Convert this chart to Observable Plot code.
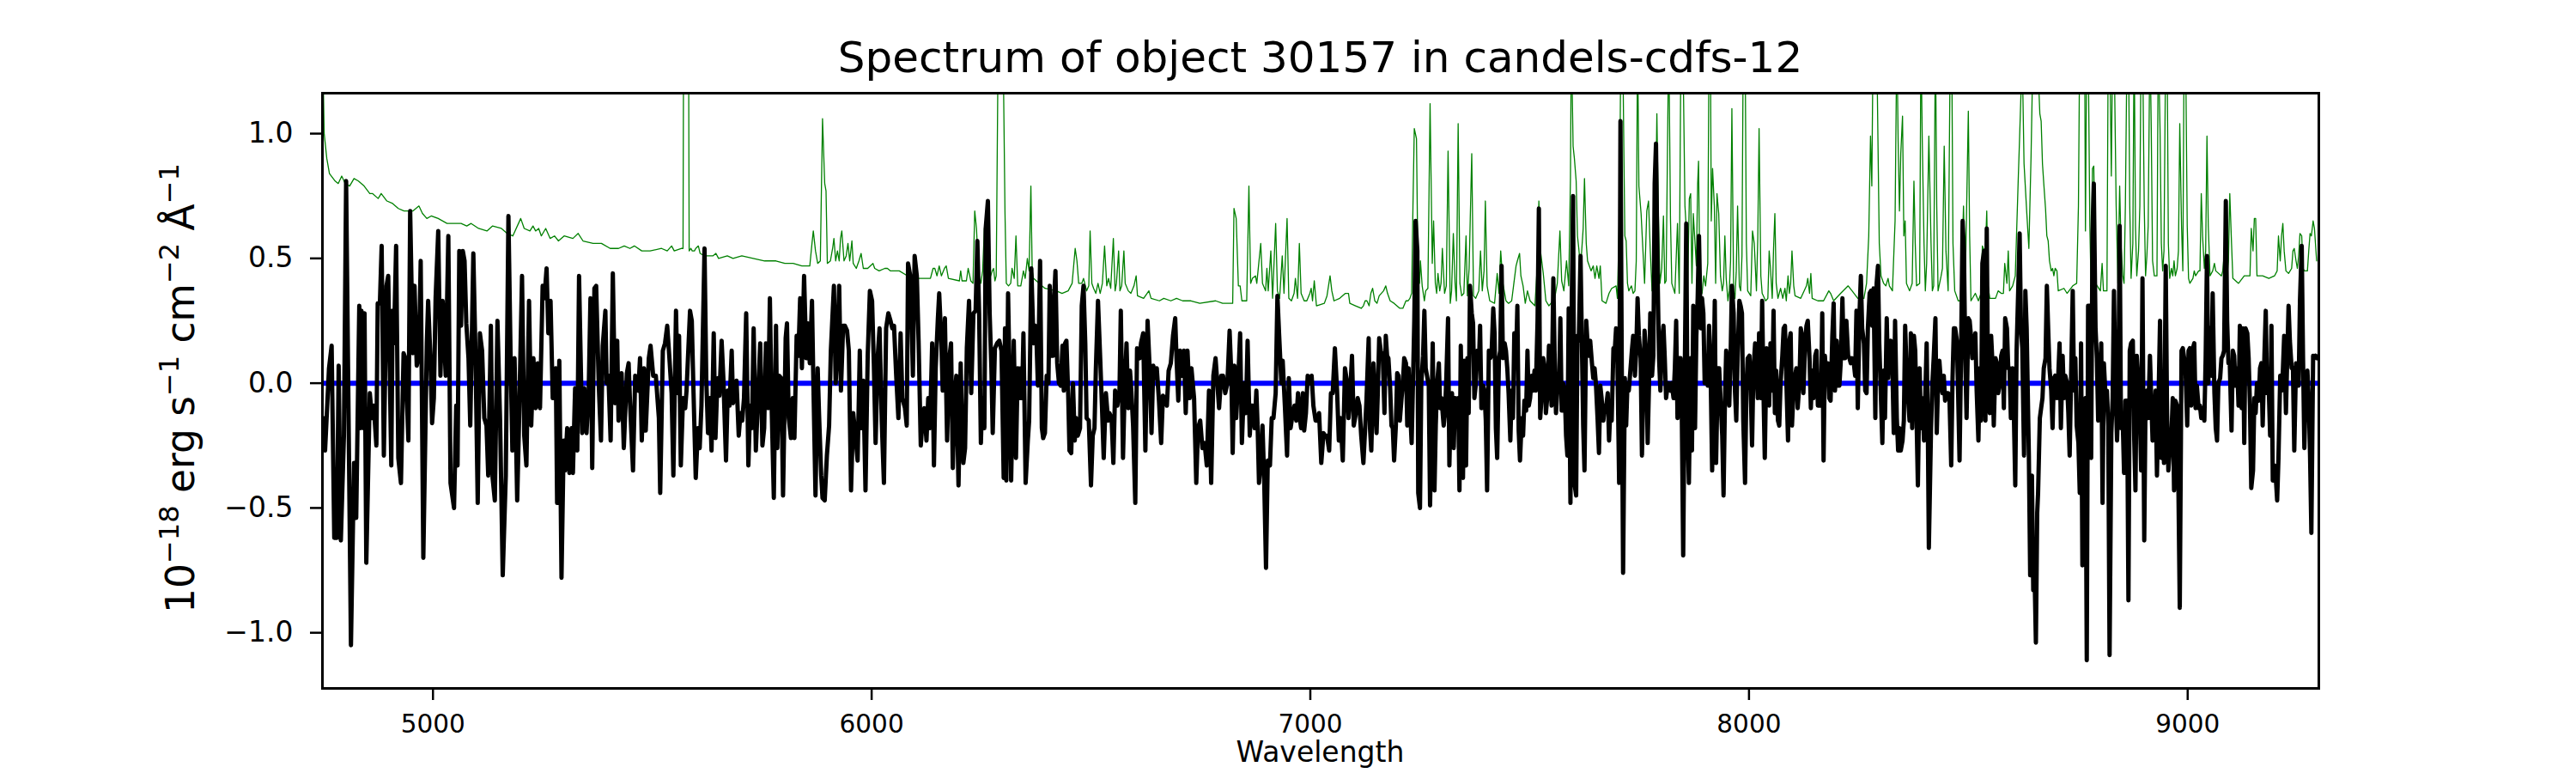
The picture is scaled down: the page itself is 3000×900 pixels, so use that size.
<!DOCTYPE html>
<html><head><meta charset="utf-8">
<script src="https://cdn.jsdelivr.net/npm/d3@7"></script>
<script src="https://cdn.jsdelivr.net/npm/@observablehq/plot@0.6"></script>
<style>html,body{margin:0;padding:0;background:#fff;} svg{display:block}</style>
</head><body><div id="chart"></div>
<script>
const titleText = "Spectrum of object 30157 in candels-cdfs-12";
const xLabel = "Wavelength";
const yLabelParts = [["10", false], ["\u221218", true], [" erg s", false], ["\u22121", true], [" cm", false], ["\u22122", true], [" \u00c5", false], ["\u22121", true]];
const xTicks = [5000, 6000, 7000, 8000, 9000];
const yTicks = [-1.0, -0.5, 0.0, 0.5, 1.0];
const xRange = [4748, 9299];
const yRange = [-1.223, 1.162];
const zeroLevel = [0];

// object flux: [wavelength, flux]
const objectFlux = [
[4750,-0.14],[4754,-0.27],[4763,0.06],[4769,0.15],[4775,-0.62],[4781,-0.62],[4785,0.07],[4790,-0.63],[4797,-0.21],[4802,0.81],[4813,-1.05],[4820,-0.32],[4825,-0.54],[4832,0.31],[4835,-0.18],[4837,0.29],[4841,-0.18],[4844,0.28],[4848,-0.72],[4856,-0.04],[4861,-0.14],[4865,-0.09],[4871,-0.25],[4874,0.32],[4879,0.32],[4883,0.55],[4888,-0.29],[4894,0.39],[4898,0.43],[4905,-0.33],[4908,0.29],[4911,0.16],[4916,0.55],[4921,-0.30],[4927,-0.40],[4933,0.12],[4937,0.10],[4944,-0.23],[4948,0.69],[4954,0.12],[4958,0.39],[4963,0.07],[4968,0.11],[4972,0.49],[4978,-0.70],[4986,0.16],[4989,0.33],[4994,0.11],[4998,-0.16],[5002,-0.06],[5006,0.34],[5012,0.61],[5017,0.03],[5022,0.33],[5029,0.03],[5035,0.59],[5040,-0.40],[5048,-0.50],[5053,-0.09],[5056,-0.33],[5060,0.53],[5064,0.23],[5068,0.53],[5072,0.49],[5076,0.24],[5081,0.10],[5085,-0.17],[5092,0.52],[5097,0.11],[5102,-0.48],[5107,0.20],[5112,0.13],[5117,-0.14],[5122,-0.17],[5126,-0.37],[5132,0.23],[5136,-0.38],[5141,-0.47],[5147,0.25],[5153,-0.15],[5159,-0.77],[5166,-0.37],[5172,0.67],[5177,0.10],[5181,-0.27],[5186,0.10],[5192,-0.47],[5196,-0.17],[5203,0.43],[5208,-0.21],[5213,-0.33],[5219,0.33],[5224,-0.17],[5229,0.10],[5234,-0.10],[5239,0.08],[5244,-0.10],[5250,0.39],[5254,0.34],[5259,0.46],[5263,0.20],[5268,0.33],[5273,-0.06],[5280,0.06],[5283,-0.48],[5288,0.09],[5293,-0.78],[5298,-0.23],[5301,-0.35],[5306,-0.18],[5311,-0.36],[5316,-0.18],[5319,-0.36],[5324,-0.02],[5329,-0.27],[5333,0.43],[5340,-0.20],[5345,-0.02],[5350,-0.20],[5355,-0.03],[5359,0.34],[5363,-0.34],[5368,0.38],[5372,0.39],[5378,-0.01],[5383,-0.23],[5387,0.15],[5393,0.29],[5396,0.00],[5400,0.03],[5405,-0.23],[5410,0.44],[5415,-0.08],[5420,0.17],[5423,-0.15],[5430,0.04],[5435,-0.26],[5442,0.04],[5446,0.08],[5449,-0.07],[5456,-0.35],[5461,0.03],[5468,-0.03],[5472,0.10],[5476,-0.23],[5481,0.06],[5485,-0.19],[5492,0.10],[5496,0.15],[5502,0.03],[5508,0.03],[5515,-0.14],[5518,-0.44],
[5524,0.13],[5529,0.16],[5534,0.23],[5539,0.10],[5544,-0.04],[5548,-0.37],[5554,0.29],[5558,-0.04],[5561,0.19],[5565,-0.33],[5570,-0.06],[5575,-0.10],[5578,-0.03],[5583,0.17],[5586,0.29],[5590,0.25],[5594,-0.04],[5599,-0.38],[5604,-0.18],[5608,-0.26],[5612,-0.09],[5619,0.54],[5623,0.02],[5627,-0.20],[5631,-0.06],[5635,-0.27],[5640,0.20],[5644,-0.22],[5647,-0.06],[5650,0.02],[5653,-0.05],[5658,0.17],[5662,0.02],[5668,-0.31],[5672,-0.03],[5676,-0.09],[5681,0.13],[5684,-0.08],[5688,-0.03],[5692,0.01],[5697,-0.21],[5701,-0.12],[5705,-0.15],[5709,-0.06],[5714,0.28],[5719,-0.33],[5723,-0.09],[5727,-0.18],[5731,0.22],[5736,-0.27],[5741,-0.06],[5746,0.16],[5751,-0.25],[5755,-0.18],[5759,0.16],[5764,-0.10],[5768,0.34],[5772,-0.09],[5777,-0.46],[5782,0.23],[5785,-0.26],[5789,0.03],[5794,0.02],[5798,-0.45],[5804,0.18],[5807,0.24],[5811,-0.14],[5816,-0.22],[5820,-0.06],[5824,-0.22],[5829,0.19],[5833,0.11],[5837,0.34],[5841,0.06],[5846,0.43],[5851,0.10],[5855,0.24],[5859,0.08],[5864,0.33],[5867,0.02],[5872,-0.45],[5877,0.06],[5880,-0.12],[5885,-0.37],[5888,-0.46],[5893,-0.47],[5898,-0.29],[5903,-0.17],[5907,0.13],[5911,0.28],[5914,0.39],[5918,0.00],[5921,0.11],[5926,0.39],[5930,-0.03],[5935,0.23],[5939,0.23],[5944,0.21],[5948,0.13],[5953,-0.43],[5958,-0.12],[5963,-0.21],[5968,-0.31],[5973,0.13],[5976,-0.18],[5981,0.01],[5986,-0.43],[5991,0.11],[5996,0.37],[6001,0.33],[6005,0.08],[6009,-0.24],[6014,0.11],[6018,0.22],[6023,-0.15],[6028,-0.40],[6033,0.22],[6038,0.28],[6043,0.25],[6047,0.22],[6051,0.23],[6056,0.03],[6061,-0.14],[6066,0.20],[6070,-0.06],[6076,-0.10],[6080,-0.17],[6083,0.48],[6089,0.42],[6094,0.03],[6098,0.51],[6103,0.43],[6107,0.17],[6112,-0.25],[6116,-0.15],[6120,-0.10],[6125,-0.23],[6129,-0.06],[6133,-0.18],[6138,0.16],[6142,-0.33],[6146,0.06],[6151,0.26],[6154,0.36],[6159,0.16],[6162,-0.03],[6167,0.26],[6172,-0.23],[6177,0.10],[6181,0.16],[6185,-0.34],[6189,-0.07],[6193,0.03],[6198,-0.41],[6203,0.08],[6206,-0.18],[6209,-0.32],[6213,-0.26],[6217,0.14],[6222,0.33],[6227,-0.04],[6232,0.28],[6237,0.29],[6241,0.57],[6245,0.28],[6249,-0.24],[6252,-0.06],[6257,-0.18],[6260,0.62],[6265,0.73],[6269,0.28],[6273,0.06],[6276,-0.20],[6281,0.14],[6286,0.16],[6291,0.17],[6296,0.13],[6301,-0.38],
[6304,0.22],[6307,-0.39],[6311,0.36],[6315,-0.03],[6318,-0.39],[6324,0.17],[6329,-0.30],[6333,0.06],[6337,-0.06],[6340,0.06],[6343,-0.06],[6346,0.20],[6351,-0.40],[6356,-0.23],[6359,-0.15],[6364,0.46],[6369,0.16],[6373,0.23],[6376,0.16],[6379,-0.01],[6384,0.49],[6388,-0.18],[6391,-0.22],[6395,-0.20],[6399,0.03],[6403,0.00],[6406,0.39],[6410,0.11],[6414,0.11],[6416,0.34],[6419,0.45],[6423,0.08],[6427,0.00],[6431,-0.01],[6435,0.15],[6438,-0.03],[6441,0.16],[6444,0.17],[6448,-0.04],[6451,-0.27],[6455,-0.28],[6459,0.00],[6463,-0.23],[6466,-0.14],[6470,-0.21],[6475,-0.18],[6479,0.31],[6483,0.39],[6487,0.16],[6490,-0.14],[6495,-0.15],[6500,-0.41],[6504,-0.21],[6508,-0.18],[6511,0.05],[6516,0.33],[6521,0.10],[6525,-0.09],[6529,-0.30],[6534,-0.04],[6539,-0.15],[6542,-0.12],[6547,-0.14],[6551,-0.32],[6555,-0.03],[6560,-0.09],[6565,-0.03],[6568,0.29],[6573,-0.30],[6577,-0.01],[6581,0.16],[6585,-0.10],[6589,0.05],[6592,-0.03],[6596,-0.17],[6601,-0.48],[6605,0.14],[6611,0.10],[6614,0.16],[6619,0.20],[6624,-0.27],[6629,0.25],[6634,0.05],[6638,-0.20],[6642,0.07],[6647,0.02],[6650,0.06],[6655,-0.07],[6660,-0.24],[6664,-0.05],[6668,-0.06],[6673,-0.09],[6677,0.05],[6682,0.08],[6687,0.19],[6692,0.26],[6695,0.10],[6699,-0.07],[6703,0.13],[6707,0.03],[6712,0.13],[6716,-0.12],[6720,0.13],[6725,-0.06],[6729,0.06],[6735,-0.06],[6740,-0.40],[6744,-0.18],[6749,-0.15],[6754,-0.26],[6759,-0.24],[6764,-0.33],[6769,-0.03],[6774,-0.40],[6779,0.03],[6784,0.10],[6788,0.00],[6792,-0.10],[6797,0.03],[6801,0.03],[6806,-0.04],[6811,0.00],[6816,0.21],[6820,0.03],[6823,-0.28],[6827,0.07],[6831,-0.14],[6836,0.03],[6840,0.20],[6844,-0.24],[6849,0.00],[6853,-0.12],[6857,0.17],[6862,-0.21],[6865,-0.09],[6869,-0.09],[6873,-0.18],[6877,-0.03],[6880,-0.18],[6883,-0.40],[6888,-0.30],[6891,-0.17],[6895,-0.40],[6899,-0.74],[6903,-0.31],[6908,-0.33],[6912,-0.14],[6916,-0.14],[6921,-0.04],[6925,0.35],[6929,0.19],[6934,0.00],[6937,0.09],[6942,-0.09],[6947,-0.29],[6951,0.02],[6955,-0.18],[6960,-0.12],[6964,-0.09],[6968,-0.15],[6972,-0.04],[6976,-0.14],[6979,-0.18],[6983,-0.04],[6986,-0.19],[6990,-0.12],[6994,0.03],[6999,0.00],[7003,0.03],[7007,-0.09],[7012,-0.15],[7017,-0.15],[7020,-0.12],[7025,-0.32],[7030,-0.20],[7033,-0.21],[7038,-0.21],[7043,-0.27],[7047,-0.04],[7051,-0.04],[7056,0.14],[7061,-0.03],[7065,-0.23],[7069,-0.14],[7074,-0.31],[7079,0.06],[7084,0.00],
[7087,-0.14],[7090,-0.07],[7095,0.11],[7099,-0.17],[7103,-0.13],[7108,-0.06],[7112,-0.09],[7116,-0.21],[7121,-0.32],[7125,-0.18],[7128,-0.07],[7133,0.18],[7136,-0.18],[7139,-0.27],[7144,0.08],[7147,-0.04],[7151,-0.20],[7154,-0.03],[7157,0.18],[7162,0.11],[7165,0.12],[7169,-0.12],[7172,0.19],[7175,0.11],[7178,0.10],[7182,-0.02],[7185,-0.17],[7188,-0.18],[7191,-0.31],[7195,-0.17],[7198,0.04],[7201,0.03],[7204,-0.15],[7208,-0.06],[7211,0.00],[7214,0.10],[7218,0.08],[7221,-0.17],[7224,0.06],[7227,-0.09],[7231,-0.24],[7234,0.00],[7237,0.25],[7240,0.65],[7244,0.53],[7246,-0.44],[7250,-0.50],[7253,0.00],[7257,0.11],[7260,0.29],[7263,0.06],[7266,0.03],[7270,-0.01],[7273,-0.49],[7276,-0.18],[7279,0.16],[7283,-0.43],[7286,-0.17],[7289,0.00],[7293,0.08],[7296,-0.10],[7299,-0.06],[7304,-0.17],[7307,-0.12],[7310,0.02],[7314,0.26],[7317,-0.33],[7320,-0.09],[7323,-0.04],[7327,-0.26],[7330,-0.06],[7334,-0.14],[7337,-0.06],[7340,-0.43],[7343,0.15],[7348,-0.38],[7351,0.09],[7355,-0.33],[7358,0.10],[7361,-0.12],[7364,0.39],[7368,0.28],[7371,0.24],[7374,-0.06],[7377,-0.01],[7381,0.13],[7384,0.06],[7387,0.23],[7390,-0.10],[7394,-0.01],[7397,-0.03],[7400,-0.15],[7403,-0.43],[7407,0.13],[7410,0.10],[7413,0.11],[7417,0.30],[7420,0.20],[7423,-0.18],[7426,-0.30],[7430,0.10],[7433,0.13],[7436,0.47],[7439,0.10],[7443,0.16],[7446,0.13],[7449,0.06],[7452,-0.04],[7456,-0.23],[7459,-0.03],[7462,-0.14],[7465,0.20],[7469,0.10],[7472,0.31],[7475,-0.19],[7478,-0.31],[7482,-0.14],[7485,-0.21],[7488,-0.07],[7492,-0.11],[7495,0.13],[7498,-0.09],[7501,-0.06],[7505,0.03],[7508,-0.03],[7511,0.05],[7514,-0.03],[7518,0.25],[7521,0.70],[7524,-0.14],[7527,-0.06],[7531,0.10],[7534,0.06],[7537,-0.12],[7540,-0.06],[7544,0.15],[7547,0.03],[7550,-0.09],[7554,0.42],[7557,0.10],[7560,-0.12],[7563,-0.03],[7567,-0.01],[7570,0.26],[7573,-0.11],[7576,0.00],[7580,-0.03],[7583,-0.21],[7586,-0.29],[7589,0.30],[7593,-0.48],[7596,0.33],[7599,0.75],[7602,-0.40],[7606,-0.45],[7609,0.19],[7612,0.17],[7616,0.51],[7619,0.17],[7622,-0.17],[7625,-0.35],[7629,0.25],[7632,0.16],[7635,0.11],[7638,0.17],[7642,0.08],[7645,0.02],[7648,0.06],[7651,0.00],[7655,-0.15],[7658,-0.28],[7661,-0.01],[7664,-0.06],[7668,-0.15],[7671,-0.09],[7674,-0.10],[7678,-0.04],[7681,-0.23],[7684,-0.10],[7687,-0.15],[7691,0.14],[7694,0.13],[7697,0.22],[7700,0.10],[7704,-0.40],[7707,1.05],[7710,0.06],[7713,-0.76],[7717,0.02],[7720,-0.17],[7723,0.00],[7726,-0.03],[7730,0.06],[7733,0.13],[7736,0.19],[7740,0.03],[7743,0.13],[7746,0.34],[7749,0.19],[7753,0.10],[7756,-0.29],[7759,-0.03],[7762,0.21],[7766,0.10],[7769,-0.24],[7772,-0.01],[7775,0.28],[7779,0.03],[7782,0.11],[7785,0.80],[7788,0.96],[7792,0.39],[7795,0.10],[7798,-0.03],[7801,0.16],[7805,0.23],[7808,0.10],[7811,-0.06],[7815,0.00],[7818,0.00],[7821,-0.03],[7824,0.00],[7828,-0.06],[7831,0.06],[7834,0.25],[7837,-0.14],[7841,0.10],[7844,0.10],[7847,-0.15],[7850,-0.69],[7854,0.11],[7857,0.64],[7860,-0.17],[7863,-0.40],[7867,0.10],
[7870,-0.27],[7873,0.31],[7877,-0.18],[7880,0.19],[7883,0.34],[7886,0.59],[7890,0.22],[7893,0.34],[7896,0.28],[7899,0.00],[7903,0.06],[7906,-0.01],[7909,0.23],[7912,0.10],[7916,-0.35],[7919,-0.03],[7922,0.33],[7925,-0.32],[7929,0.06],[7932,0.06],[7935,-0.06],[7939,-0.21],[7942,-0.45],[7945,-0.09],[7948,0.13],[7952,0.06],[7955,-0.09],[7958,0.10],[7961,0.39],[7965,0.28],[7968,-0.03],[7971,-0.15],[7974,0.10],[7978,0.33],[7981,0.31],[7984,0.28],[7987,-0.15],[7991,-0.40],[7994,-0.03],[7997,0.10],[8001,0.11],[8004,-0.03],[8007,-0.25],[8010,0.05],[8014,0.16],[8017,0.06],[8020,-0.06],[8023,0.20],[8027,-0.06],[8030,0.33],[8033,-0.03],[8036,-0.30],[8040,0.14],[8043,0.11],[8046,-0.09],[8049,0.16],[8053,-0.03],[8056,0.29],[8059,-0.12],[8062,0.05],[8066,-0.15],[8069,-0.17],[8072,0.00],[8076,0.11],[8079,0.22],[8082,0.23],[8085,0.02],[8089,-0.23],[8092,0.17],[8095,0.20],[8098,-0.17],[8102,-0.01],[8105,0.03],[8108,0.06],[8111,-0.10],[8115,0.00],[8118,0.22],[8121,0.19],[8124,-0.04],[8128,0.16],[8131,0.23],[8134,0.25],[8138,0.10],[8141,-0.10],[8144,0.05],[8147,-0.06],[8151,0.11],[8154,0.13],[8157,-0.09],[8160,0.03],[8164,-0.09],[8167,0.28],[8170,-0.31],[8173,0.11],[8177,0.00],[8180,0.08],[8183,-0.06],[8186,-0.07],[8190,0.19],[8193,0.32],[8196,-0.03],[8200,0.17],[8203,-0.01],[8206,-0.01],[8209,0.08],[8213,0.34],[8216,0.10],[8219,0.10],[8222,0.25],[8226,0.11],[8229,0.10],[8232,0.08],[8235,0.10],[8239,0.08],[8242,0.03],[8245,0.29],[8248,-0.10],[8252,0.28],[8255,0.43],[8258,0.22],[8262,0.16],[8265,-0.03],[8268,-0.04],[8271,0.22],[8275,0.36],[8278,0.37],[8281,0.23],[8284,0.38],[8288,-0.14],[8291,0.40],[8294,0.47],[8297,0.16],[8301,-0.07],[8304,-0.24],[8307,0.05],[8310,-0.14],[8314,0.26],[8317,0.02],[8320,0.16],[8323,0.17],[8327,0.05],[8330,-0.20],[8333,0.25],[8337,-0.14],[8340,-0.27],[8343,-0.18],[8346,-0.27],[8350,-0.23],[8353,-0.15],[8356,0.23],[8359,0.06],[8363,-0.07],[8366,-0.15],[8369,0.20],[8372,-0.18],[8376,0.19],[8379,0.13],[8382,-0.14],[8385,-0.41],[8389,0.06],[8392,-0.18],[8395,-0.06],[8399,-0.23],[8402,-0.04],[8405,0.16],[8408,-0.24],[8410,-0.66],[8415,-0.18],[8418,0.00],[8421,0.10],[8425,0.26],[8428,-0.20],[8431,0.00],[8434,0.09],[8438,-0.01],[8441,-0.04],[8444,0.03],[8447,-0.07],[8451,-0.04],[8454,-0.04],[8457,-0.06],[8461,-0.33],[8464,0.02],[8467,0.22],[8470,0.22],[8474,0.17],[8477,-0.06],[8480,-0.31],[8483,0.06],[8487,0.65],[8490,0.53],[8493,0.10],[8496,-0.14],[8500,0.26],[8503,0.25],[8506,0.19],[8509,0.10],[8513,0.16],[8516,0.20],[8519,-0.03],[8523,-0.23],[8526,0.06],[8529,-0.15],[8532,0.48],[8536,0.53],[8539,-0.15],[8542,0.62],[8545,-0.03],[8549,-0.12],[8552,0.19],[8555,0.08],[8558,-0.17],[8562,0.10],[8565,0.08],[8568,-0.04],[8571,-0.01],[8575,0.11],[8578,0.13],[8581,-0.10],[8584,0.26],[8588,0.22],[8591,0.06],[8594,0.06],[8597,-0.14],[8601,0.06],[8604,-0.14],[8607,-0.41],[8610,0.13],[8614,0.39],[8617,0.60],[8620,0.22],[8623,0.14],[8627,-0.29],[8630,0.37],[8633,0.22],
[8638,-0.29],[8641,-0.77],[8645,-0.37],[8648,-0.83],[8651,-0.76],[8654,-1.04],[8657,-0.52],[8659,-0.44],[8663,-0.14],[8666,-0.10],[8669,-0.06],[8672,0.06],[8676,0.10],[8679,0.39],[8682,0.22],[8685,0.06],[8689,-0.03],[8692,-0.18],[8695,0.02],[8698,0.03],[8702,-0.06],[8705,0.03],[8708,0.16],[8711,-0.18],[8715,0.11],[8718,-0.06],[8721,0.03],[8725,0.00],[8728,-0.12],[8731,-0.29],[8734,0.00],[8738,0.37],[8741,-0.03],[8744,0.10],[8747,-0.17],[8751,-0.24],[8754,-0.44],[8757,0.16],[8760,-0.73],[8764,-0.26],[8767,-0.06],[8770,-1.11],[8773,0.31],[8777,0.31],[8780,-0.30],[8783,0.60],[8786,0.80],[8790,0.22],[8793,0.10],[8796,-0.15],[8800,-0.01],[8803,0.16],[8806,-0.48],[8809,0.08],[8813,-0.06],[8816,-0.03],[8819,-0.17],[8822,-1.09],[8826,-0.20],[8829,-0.06],[8832,0.37],[8835,0.02],[8839,-0.23],[8842,-0.06],[8845,0.63],[8848,-0.18],[8852,-0.15],[8855,-0.36],[8858,-0.07],[8862,-0.07],[8865,-0.87],[8868,0.13],[8871,0.16],[8875,0.17],[8878,-0.21],[8881,-0.43],[8884,0.11],[8888,0.00],[8891,-0.12],[8894,-0.35],[8897,0.42],[8901,-0.63],[8904,-0.07],[8907,-0.03],[8910,-0.14],[8914,0.11],[8917,-0.06],[8920,-0.23],[8924,-0.15],[8927,-0.03],[8930,-0.37],[8933,-0.12],[8937,0.25],[8940,-0.30],[8943,-0.06],[8946,-0.32],[8950,0.47],[8953,-0.12],[8956,-0.35],[8959,-0.27],[8963,-0.21],[8966,-0.06],[8969,-0.43],[8972,-0.07],[8976,-0.09],[8979,-0.43],[8982,-0.90],[8986,0.13],[8989,0.14],[8992,0.10],[8995,0.06],[8999,-0.17],[9002,0.13],[9005,0.14],[9008,-0.09],[9012,0.14],[9015,0.16],[9018,-0.10],[9021,-0.01],[9025,-0.10],[9028,-0.09],[9031,-0.14],[9034,-0.10],[9038,-0.15],[9041,0.10],[9044,0.51],[9047,0.00],[9051,0.22],[9054,0.03],[9057,0.36],[9061,-0.04],[9064,-0.18],[9067,-0.23],[9070,0.00],[9074,0.02],[9077,0.10],[9080,0.11],[9083,0.13],[9087,0.73],[9090,0.25],[9093,0.08],[9096,0.08],[9100,-0.19],[9103,0.13],[9106,0.11],[9109,-0.01],[9113,0.06],[9116,-0.09],[9119,0.23],[9123,-0.10],[9126,0.22],[9129,-0.24],[9132,0.22],[9136,0.20],[9139,0.10],[9142,-0.09],[9145,-0.42],[9149,-0.35],[9152,-0.06],[9155,-0.12],[9158,0.00],[9162,-0.07],[9165,0.06],[9168,0.08],[9171,-0.17],[9175,0.11],[9178,0.29],[9181,-0.04],[9185,-0.03],[9188,-0.21],[9191,0.23],[9194,-0.39],[9198,-0.33],[9201,-0.38],[9204,-0.47],[9207,-0.30],[9211,0.03],[9214,-0.03],[9217,0.05],[9220,0.19],[9224,-0.12],[9227,0.10],[9230,0.31],[9233,0.17],[9237,0.06],[9240,0.06],[9243,-0.27],[9247,0.08],[9250,0.05],[9253,-0.01],[9256,0.33],[9260,0.55],[9263,0.10],[9266,-0.26],[9269,-0.03],[9273,0.05],[9276,-0.06],[9279,-0.29],[9282,-0.60],[9286,0.11],[9289,0.10],[9292,0.11],[9295,0.10]
];

// sky / noise spectrum: [wavelength, value]
const skyNoise = [
[4749,1.30],[4752,1.00],[4758,0.90],[4764,0.84],[4777,0.81],[4784,0.80],[4792,0.83],[4800,0.80],[4810,0.79],[4820,0.82],[4830,0.81],[4843,0.79],[4856,0.76],[4862,0.76],[4875,0.74],[4882,0.76],[4895,0.73],[4908,0.72],[4921,0.70],[4934,0.69],[4954,0.69],[4968,0.71],[4976,0.68],[4986,0.66],[4996,0.67],[5012,0.66],[5032,0.64],[5051,0.64],[5064,0.64],[5077,0.63],[5087,0.64],[5104,0.62],[5123,0.61],[5136,0.63],[5156,0.62],[5169,0.60],[5182,0.59],[5200,0.66],[5208,0.62],[5221,0.61],[5228,0.63],[5234,0.61],[5241,0.62],[5247,0.59],[5257,0.62],[5267,0.58],[5277,0.59],[5286,0.57],[5299,0.59],[5319,0.58],[5331,0.60],[5342,0.57],[5365,0.56],[5384,0.56],[5404,0.54],[5423,0.54],[5436,0.55],[5449,0.54],[5459,0.55],[5476,0.53],[5495,0.53],[5521,0.54],
[5534,0.53],[5544,0.55],[5550,0.53],[5567,0.54],[5570,0.54],[5573,2.5],[5577,3.0],[5581,2.5],[5584,0.53],[5588,0.54],[5591,0.53],[5596,0.53],[5599,0.54],[5605,0.55],[5609,0.52],[5619,0.51],[5629,0.51],[5638,0.51],[5645,0.52],[5651,0.50],[5671,0.51],[5684,0.50],[5704,0.51],[5730,0.50],[5756,0.49],[5782,0.49],[5802,0.48],[5821,0.48],[5841,0.47],[5859,0.47],[5864,0.56],[5867,0.61],[5872,0.53],[5877,0.48],[5883,0.49],[5888,1.06],[5893,0.80],[5896,0.77],[5899,0.48],[5906,0.49],[5911,0.54],[5914,0.58],[5918,0.49],[5922,0.53],[5926,0.49],[5929,0.58],[5932,0.61],[5937,0.49],[5942,0.51],[5946,0.56],[5950,0.49],[5955,0.57],[5958,0.48],[5965,0.46],[5971,0.49],[5976,0.52],[5981,0.46],[5991,0.46],[6003,0.48],[6007,0.46],[6017,0.45],[6030,0.46],[6036,0.46],[6043,0.45],[6063,0.45],[6082,0.43],[6108,0.42],[6134,0.42],[6140,0.46],[6144,0.46],[6149,0.43],[6154,0.47],[6159,0.43],[6166,0.46],[6170,0.47],[6175,0.42],[6200,0.41],[6203,0.45],[6206,0.41],[6216,0.41],[6220,0.46],[6226,0.41],[6231,0.40],[6235,0.69],[6239,0.62],[6244,0.43],[6249,0.40],[6253,0.45],[6257,0.62],[6260,0.46],[6266,0.40],[6275,0.45],[6278,0.46],[6281,0.41],[6284,0.43],[6289,1.50],[6295,2.5],[6300,1.30],
[6304,0.68],[6307,0.40],[6312,0.39],[6317,0.40],[6320,0.46],[6325,0.42],[6329,0.59],[6333,0.39],[6340,0.39],[6346,0.45],[6350,0.42],[6355,0.50],[6359,0.45],[6363,0.79],[6366,0.45],[6369,0.42],[6382,0.40],[6395,0.38],[6421,0.37],[6434,0.36],[6448,0.37],[6457,0.40],[6464,0.54],[6468,0.49],[6472,0.40],[6479,0.40],[6483,0.42],[6490,0.37],[6495,0.39],[6498,0.61],[6502,0.40],[6506,0.38],[6511,0.36],[6516,0.40],[6521,0.36],[6526,0.40],[6531,0.55],[6536,0.39],[6540,0.42],[6545,0.38],[6551,0.58],[6555,0.37],[6558,0.40],[6563,0.53],[6566,0.37],[6570,0.39],[6575,0.53],[6578,0.40],[6585,0.37],[6591,0.36],[6598,0.39],[6603,0.43],[6606,0.35],[6620,0.34],[6632,0.37],[6637,0.34],[6656,0.33],[6666,0.34],[6682,0.33],[6695,0.34],[6709,0.33],[6728,0.33],[6748,0.32],[6784,0.33],[6800,0.32],[6823,0.32],[6826,0.70],[6831,0.66],[6836,0.39],[6840,0.39],[6844,0.33],[6855,0.33],[6860,0.79],[6864,0.40],[6868,0.42],[6875,0.43],[6878,0.40],[6887,0.56],[6891,0.40],[6898,0.37],[6901,0.46],[6904,0.37],[6910,0.53],[6914,0.34],[6921,0.64],[6925,0.37],[6930,0.34],[6936,0.51],[6940,0.36],[6947,0.66],[6951,0.34],[6957,0.33],[6963,0.36],[6966,0.42],[6971,0.34],[6975,0.56],[6979,0.36],[6986,0.33],[6992,0.33],[6999,0.36],[7002,0.38],[7005,0.33],[7009,0.41],[7014,0.31],[7032,0.32],[7038,0.35],[7045,0.43],[7049,0.37],[7054,0.33],[7067,0.34],[7080,0.36],
[7087,0.36],[7090,0.32],[7103,0.31],[7116,0.30],[7121,0.31],[7125,0.33],[7129,0.33],[7134,0.31],[7138,0.36],[7142,0.38],[7147,0.33],[7152,0.32],[7157,0.35],[7167,0.37],[7172,0.39],[7176,0.36],[7182,0.33],[7191,0.32],[7204,0.30],[7211,0.30],[7218,0.33],[7223,0.33],[7227,0.34],[7231,0.36],[7234,0.71],[7237,1.02],[7242,0.98],[7245,0.51],[7249,0.40],[7251,0.49],[7255,0.39],[7260,0.33],[7263,0.37],[7268,0.38],[7273,1.12],[7278,0.48],[7281,0.65],[7285,0.40],[7288,0.36],[7291,0.44],[7295,0.37],[7298,0.40],[7301,0.54],[7306,0.36],[7310,0.39],[7314,0.93],[7319,0.32],[7322,0.37],[7326,0.60],[7330,0.40],[7333,0.33],[7337,1.04],[7341,0.40],[7345,0.35],[7350,0.36],[7355,0.59],[7358,0.35],[7362,0.46],[7368,0.92],[7372,0.35],[7377,0.34],[7384,0.37],[7388,0.53],[7392,0.37],[7396,0.45],[7399,0.73],[7403,0.39],[7409,0.33],[7420,0.32],[7426,0.44],[7430,0.36],[7434,0.53],[7439,0.40],[7446,0.33],[7452,0.32],[7459,0.33],[7464,0.40],[7469,0.47],[7472,0.49],[7477,0.52],[7480,0.43],[7485,0.39],[7490,0.32],[7495,0.37],[7501,0.33],[7512,0.31],[7518,0.49],[7521,0.73],[7524,0.54],[7531,0.44],[7537,0.33],[7544,0.31],[7557,0.34],[7563,0.40],[7569,0.61],[7573,0.41],[7578,0.37],[7584,0.49],[7589,0.39],[7593,0.82],[7595,1.40],[7599,0.95],[7602,0.90],[7606,0.81],[7609,0.59],[7612,0.54],[7616,0.46],[7619,0.54],[7622,0.62],[7625,0.82],[7629,0.56],[7632,0.49],[7640,0.45],[7645,0.47],[7649,0.42],[7653,0.47],[7658,0.42],[7661,0.47],[7665,0.33],[7674,0.32],[7681,0.36],[7687,0.38],[7697,0.39],[7700,0.34],[7705,0.71],[7708,1.40],[7712,1.40],[7715,0.89],[7717,0.59],[7720,0.57],[7723,0.40],[7726,0.37],[7732,0.39],[7736,0.36],[7740,0.37],[7743,0.49],[7746,1.40],[7749,0.79],[7754,0.68],[7758,0.54],[7762,0.40],[7767,0.69],[7771,0.73],[7775,0.53],[7779,0.37],[7782,0.54],[7785,0.39],[7790,1.08],[7793,0.71],[7797,0.40],[7801,0.46],[7805,0.67],[7808,0.40],[7811,0.41],[7817,1.40],[7821,0.66],[7824,0.40],[7831,0.36],[7837,0.64],[7841,0.36],[7845,1.40],[7849,1.40],[7854,0.71],[7857,0.62],[7860,0.37],[7864,0.74],[7867,0.76],
[7870,0.40],[7873,0.68],[7877,0.56],[7880,0.47],[7883,0.80],[7885,0.89],[7888,0.40],[7893,0.36],[7897,0.43],[7901,0.39],[7906,0.48],[7909,1.40],[7912,1.40],[7914,0.65],[7917,0.86],[7921,0.71],[7924,0.40],[7927,0.76],[7931,0.68],[7935,0.43],[7939,0.37],[7942,0.40],[7945,0.59],[7948,0.42],[7952,0.33],[7955,0.37],[7958,0.49],[7961,1.10],[7965,0.37],[7968,0.34],[7971,0.45],[7974,0.71],[7978,0.39],[7981,0.37],[7984,0.51],[7987,1.40],[7991,1.40],[7994,0.56],[7997,0.37],[8004,0.35],[8008,0.61],[8012,0.56],[8017,0.37],[8020,0.58],[8023,1.02],[8027,0.43],[8030,0.36],[8038,0.33],[8043,0.34],[8046,0.53],[8049,0.46],[8053,0.34],[8056,0.54],[8059,0.68],[8062,0.40],[8066,0.34],[8072,0.38],[8077,0.34],[8082,0.38],[8085,0.33],[8089,0.43],[8092,0.36],[8095,0.40],[8098,0.53],[8102,0.39],[8105,0.35],[8118,0.34],[8131,0.39],[8134,0.42],[8138,0.36],[8141,0.44],[8144,0.34],[8157,0.33],[8170,0.33],[8182,0.37],[8186,0.36],[8193,0.33],[8209,0.36],[8226,0.39],[8235,0.37],[8248,0.34],[8262,0.34],[8268,0.40],[8273,0.59],[8277,0.99],[8280,0.79],[8283,1.40],[8288,1.40],[8291,1.40],[8294,0.97],[8297,0.56],[8301,0.43],[8307,0.40],[8312,0.39],[8317,0.42],[8320,0.39],[8327,0.37],[8333,0.65],[8337,1.40],[8340,0.97],[8343,0.69],[8346,0.92],[8350,1.07],[8353,0.59],[8356,0.65],[8359,0.40],[8366,0.37],[8372,0.40],[8376,0.81],[8379,0.56],[8382,0.39],[8389,0.40],[8392,1.40],[8395,0.97],[8399,0.56],[8402,0.37],[8405,0.48],[8410,0.99],[8415,0.56],[8418,0.37],[8421,0.39],[8425,1.40],[8428,0.71],[8431,0.37],[8438,0.43],[8441,0.46],[8445,0.95],[8449,0.53],[8454,0.37],[8459,1.40],[8462,1.40],[8465,0.56],[8469,0.37],[8477,0.33],[8483,0.33],[8489,0.71],[8493,0.40],[8496,0.69],[8500,1.09],[8503,0.59],[8506,0.33],[8516,0.36],[8523,0.33],[8529,0.36],[8532,0.55],[8536,0.53],[8539,0.53],[8542,0.69],[8545,0.39],[8549,0.34],[8562,0.34],[8568,0.37],[8575,0.36],[8580,0.36],[8583,0.48],[8588,0.40],[8591,0.53],[8594,0.37],[8601,0.39],[8607,0.43],[8610,0.60],[8614,0.83],[8617,0.99],[8620,1.16],[8623,1.30],
[8627,0.88],[8633,0.69],[8638,0.54],[8643,0.91],[8648,1.40],[8656,1.40],[8663,1.08],[8666,1.05],[8669,0.88],[8672,0.80],[8676,0.70],[8679,0.59],[8682,0.57],[8685,0.49],[8689,0.45],[8692,0.46],[8695,0.43],[8698,0.46],[8702,0.45],[8705,0.37],[8718,0.38],[8725,0.36],[8738,0.39],[8747,0.40],[8751,0.71],[8754,1.40],[8760,1.40],[8765,1.40],[8767,0.61],[8770,1.40],[8773,1.40],[8777,0.63],[8780,0.37],[8783,0.86],[8786,0.87],[8790,0.40],[8801,0.37],[8805,0.48],[8808,0.37],[8816,0.37],[8819,1.40],[8822,1.40],[8826,0.83],[8829,1.40],[8832,1.40],[8837,0.71],[8841,0.40],[8845,0.79],[8848,0.56],[8852,0.43],[8855,0.40],[8858,0.71],[8862,1.40],[8865,1.40],[8868,0.71],[8871,0.42],[8875,0.56],[8878,1.40],[8881,0.63],[8884,0.43],[8888,0.53],[8891,0.71],[8894,1.40],[8897,1.40],[8901,0.71],[8904,0.43],[8907,0.51],[8910,0.63],[8914,1.40],[8917,1.02],[8920,0.49],[8924,0.43],[8930,0.43],[8933,1.40],[8937,1.02],[8940,0.56],[8943,0.45],[8946,0.53],[8950,1.40],[8953,1.40],[8956,0.56],[8959,0.42],[8963,0.46],[8966,0.43],[8969,0.49],[8972,0.43],[8976,0.46],[8979,0.53],[8982,1.04],[8986,0.63],[8989,0.45],[8992,1.40],[8995,1.40],[8999,0.63],[9002,0.42],[9005,0.40],[9012,0.42],[9015,0.45],[9018,0.43],[9025,0.45],[9028,0.45],[9031,0.76],[9034,0.59],[9038,0.46],[9041,0.53],[9044,0.99],[9047,0.63],[9051,0.43],[9057,0.45],[9061,0.48],[9064,0.45],[9077,0.43],[9080,0.45],[9083,0.51],[9087,0.62],[9090,0.43],[9093,0.49],[9096,0.76],[9100,0.56],[9103,0.42],[9116,0.40],[9129,0.43],[9142,0.43],[9145,0.62],[9149,0.53],[9152,0.66],[9155,0.66],[9158,0.43],[9171,0.43],[9185,0.42],[9198,0.43],[9204,0.45],[9207,0.59],[9211,0.49],[9214,0.59],[9217,0.64],[9220,0.53],[9224,0.45],[9230,0.44],[9237,0.46],[9240,0.53],[9243,0.54],[9247,0.49],[9250,0.46],[9253,0.51],[9256,0.60],[9260,0.59],[9263,0.46],[9266,0.45],[9273,0.45],[9276,0.53],[9279,0.60],[9282,0.59],[9286,0.65],[9289,0.62],[9294,0.49]
];

const W = 3000, H = 900, mL = 375, mR = 300, mT = 108, mB = 99;
const font = "'DejaVu Sans', sans-serif";

const chart = Plot.plot({
  width: W, height: H,
  marginLeft: mL, marginRight: mR, marginTop: mT, marginBottom: mB,
  style: {fontFamily: font, background: "white", color: "black", overflow: "visible"},
  x: {domain: xRange},
  y: {domain: yRange},
  marks: [
    Plot.line(skyNoise, {x: d => d[0], y: d => d[1], stroke: "#008000", strokeWidth: 1.3, clip: true}),
    Plot.ruleY(zeroLevel, {stroke: "#0000ff", strokeWidth: 6, clip: true}),
    Plot.line(objectFlux, {x: d => d[0], y: d => d[1], stroke: "black", strokeWidth: 5, clip: true}),
    Plot.axisX({ticks: xTicks, tickSize: 14, tickPadding: 17, fontSize: 29.5, tickFormat: d3.format("d"), label: null, strokeWidth: 2.5}),
    Plot.axisY({ticks: yTicks, tickSize: 14, tickPadding: 20, fontSize: 33, tickFormat: d3.format(".1f"), label: null, strokeWidth: 2.5}),
    Plot.frame({stroke: "black", strokeWidth: 3})
  ]
});

const svg = d3.select(chart);
const cx = mL + (W - mL - mR) / 2;
svg.append("text")
  .attr("x", cx).attr("y", 84)
  .attr("text-anchor", "middle")
  .attr("font-family", font).attr("font-size", 50).attr("fill", "black")
  .text(titleText);
svg.append("text")
  .attr("x", cx).attr("y", 887)
  .attr("text-anchor", "middle")
  .attr("font-family", font).attr("font-size", 33).attr("fill", "black")
  .text(xLabel);
const yl = svg.append("text")
  .attr("transform", "translate(226,452) rotate(-90)")
  .attr("text-anchor", "middle")
  .attr("font-family", font).attr("font-size", 45.5).attr("fill", "black");
let raised = false;
for (const [t, sup] of yLabelParts) {
  const ts = yl.append("tspan").text(t);
  if (sup && !raised) { ts.attr("dy", -18).attr("font-size", 32); raised = true; }
  else if (sup) { ts.attr("font-size", 32); }
  else if (raised) { ts.attr("dy", 18); raised = false; }
}
document.getElementById("chart").appendChild(chart);
</script>
</body></html>
